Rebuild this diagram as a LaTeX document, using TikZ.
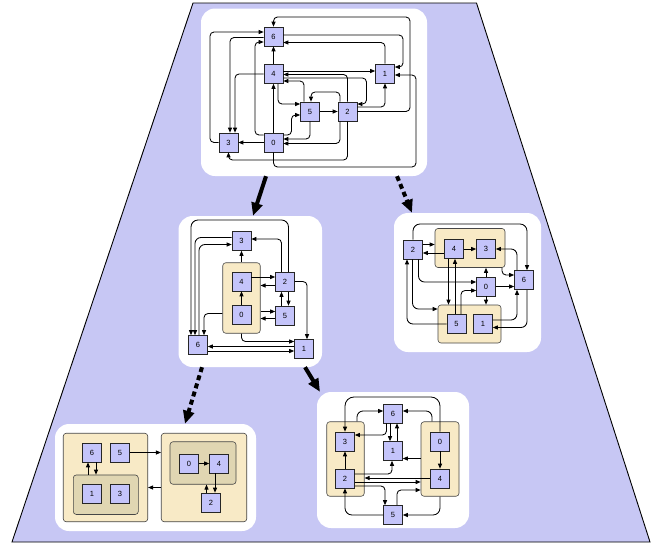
\documentclass[tikz,border=0pt]{standalone}
\usepackage{fontspec}
\setmainfont{Liberation Sans}
\usetikzlibrary{arrows.meta}
\definecolor{bgblue}{RGB}{199,199,244}
\definecolor{nodeblue}{RGB}{196,196,250}
\definecolor{clbeige}{RGB}{248,234,198}
\definecolor{clinner}{RGB}{224,214,178}
\definecolor{clline}{RGB}{70,70,70}
\begin{document}
\begin{tikzpicture}[x=1pt,y=-1pt,
  vx/.style={draw=black!85, fill=nodeblue, line width=0.6pt, minimum size=19pt, inner sep=0pt, font=\fontsize{7.5}{8}\selectfont},
  ed/.style={-{Triangle[length=5pt,width=4pt]}, line width=0.85pt, rounded corners=4pt},
  grp/.style={draw=clline, fill=clbeige, line width=0.6pt, rounded corners=3pt, inner sep=0pt},
  grpin/.style={grp, fill=clinner},
  panel/.style={fill=white, rounded corners=14pt, inner sep=0pt},
  bigarrow/.style={line width=4pt, -{Triangle[length=13pt,width=11pt]}},
  bigdotted/.style={bigarrow, dash pattern=on 5pt off 3.5pt}
]
\useasboundingbox (0,0) rectangle (668,546);
% background trapezoid
\draw[fill=bgblue, line width=0.9pt] (193,3) -- (476.5,3) -- (650,542) -- (12,542) -- cycle;

% white panels
\node[panel, minimum width=226pt, minimum height=167.5pt] (P1) at (314,92.25) {};
\node[panel, minimum width=143.5pt, minimum height=151pt] (P2) at (250.25,291.5) {};
\node[panel, minimum width=147pt, minimum height=139pt] (P3) at (467.5,282.5) {};
\node[panel, minimum width=201pt, minimum height=107pt] (P4) at (155.5,477.5) {};
\node[panel, minimum width=152pt, minimum height=136pt] (P5) at (393,460) {};

% arrows between panels
\draw[bigarrow] (P1.south -| 266,0) -- (P2.north -| 253,0);
\draw[bigdotted] (P1.south -| 397,0) -- (P3.north -| 412,0);
\draw[bigdotted] (P2.south -| 202,0) -- (P4.north -| 185,0);
\draw[bigarrow] (P2.south -| 305,0) -- (P5.north -| 320,0);

% ---------- panel 1 ----------
\node[vx] (a6) at (273.5,36.5) {6};
\node[vx] (a4) at (273.5,74) {4};
\node[vx] (a1) at (385,73.5) {1};
\node[vx] (a5) at (310,111.5) {5};
\node[vx] (a2) at (347.5,111.5) {2};
\node[vx] (a3) at (228.5,142.5) {3};
\node[vx] (a0) at (273.5,142.5) {0};

\draw[ed] (a2.east) -- (410,111.5) -- (410,17) -- (273.5,17) -- (a6.north);
\draw[ed] (a6.east |- 0,35) -- (403,35) -- (403,67) -- (a1.east |- 0,67);
\draw[ed] (a1.north) -- (385,42.5) -- (a6.east |- 0,42.5);
\draw[ed] (a4) -- (a6);
\draw[ed] (a4.east |- 0,71) -- (a1.west |- 0,71);
\draw[ed] (a4.east |- 0,78) -- (366.5,78) -- (366.5,104) -- (a2.east |- 0,104);
\draw[ed] (a2.north) -- (347.5,74.5) -- (a4.east |- 0,74.5);
\draw[ed] (a5.north -| 304,0) -- (304,81) -- (a4.east |- 0,81);
\draw[ed] (a2.north -| 340,0) -- (340,92) -- (311,92) -- (a5.north -| 311,0);
\draw[ed] (a4.south -| 278,0) -- (278,104) -- (a5.west |- 0,104);
\draw[ed] (a0.east |- 0,135) -- (291.5,135) -- (291.5,115) -- (a5.west |- 0,115);
\draw[ed] (a5.south) -- (310,139) -- (a0.east |- 0,139);
\draw[ed] (a2.south -| 340,0) -- (340,143.5) -- (a0.east |- 0,143.5);
\draw[ed] (a2.south) -- (347.5,160) -- (228.5,160) -- (a3.south);
\draw[ed] (a0.south) -- (273.5,167) -- (416,167) -- (416,75) -- (a1.east |- 0,75);
\draw[ed] (a0) -- (a3);
\draw[ed] (a3.west) -- (210,142.5) -- (210,32) -- (a6.west |- 0,32);
\draw[ed] (a6.west |- 0,37.5) -- (230,37.5) -- (a3.north -| 230,0);
\draw[ed] (a4.west) -- (235,74) -- (a3.north -| 235,0);
\draw[ed] (a0.west |- 0,135) -- (255,135) -- (255,42) -- (a6.west |- 0,42);
\draw[ed] (a0) -- (a4);
\draw[ed] (a5) -- (a2);
\draw[ed] (a2.east |- 0,107) -- (385,107) -- (a1.south);

% ---------- panel 2 ----------
\node[grp, minimum width=37.5pt, minimum height=70.5pt] (bc) at (241.5,298) {};
\node[vx] (b3) at (241.5,241) {3};
\node[vx] (b4) at (241.5,281.5) {4};
\node[vx] (b0) at (241.5,314.5) {0};
\node[vx] (b2) at (285,282) {2};
\node[vx] (b5) at (285,315.5) {5};
\node[vx] (b6) at (198,345) {6};
\node[vx] (b1) at (304,349) {1};

\draw[ed] (bc.north) -- (b3.south);
\draw[ed] (b0) -- (b4);
\draw[ed] (b4.east |- 0,277) -- (b2.west |- 0,277);
\draw[ed] (b2.west |- 0,285.5) -- (bc.east |- 0,285.5);
\draw[ed] (bc.east |- 0,311.5) -- (b5.west |- 0,311.5);
\draw[ed] (b5.west |- 0,318.5) -- (bc.east |- 0,318.5);
\draw[ed] (b2.south -| 288.5,0) -- (b5.north -| 288.5,0);
\draw[ed] (b5.north -| 281.5,0) -- (b2.south -| 281.5,0);
\draw[ed] (b2.north -| 281.5,0) -- (281.5,239) -- (b3.east |- 0,239);
\draw[ed, rounded corners=7pt] (b2.north -| 288.5,0) -- (288.5,220) -- (191,220) -- (b6.north -| 191,0);
\draw[ed, rounded corners=6pt] (b3.west |- 0,237.5) -- (195,237.5) -- (b6.north -| 195,0);
\draw[ed, rounded corners=6pt] (b6.north -| 199,0) -- (199,244.5) -- (b3.west |- 0,244.5);
\draw[ed] (bc.west |- 0,313.5) -- (204,313.5) -- (b6.north -| 204,0);
\draw[ed] (bc.south) -- (241.5,341.5) -- (b1.west |- 0,341.5);
\draw[ed] (b1.west |- 0,346.5) -- (b6.east |- 0,346.5);
\draw[ed] (b6.east |- 0,351) -- (b1.west |- 0,351);
\draw[ed] (b2.east |- 0,281.5) -- (307,281.5) -- (b1.north -| 307,0);

% ---------- panel 3 ----------
\node[grp, minimum width=70pt, minimum height=39pt] (cA) at (470,248) {};
\node[grp, minimum width=63pt, minimum height=38pt] (cB) at (469.5,324) {};
\node[vx] (c2) at (413,249.5) {2};
\node[vx] (c4) at (454,249) {4};
\node[vx] (c3) at (486,249) {3};
\node[vx] (c0) at (486,286.5) {0};
\node[vx] (c6) at (524,280) {6};
\node[vx] (c5) at (456.5,324) {5};
\node[vx] (c1) at (483,324) {1};

\draw[ed] (c2.east |- 0,244.5) -- (cA.west |- 0,244.5);
\draw[ed] (c4.west |- 0,253) -- (c2.east |- 0,253);
\draw[ed] (c4) -- (c3);
\draw[ed, rounded corners=6pt] (c6.north -| 517,0) -- (517,249) -- (c3.east);
\draw[ed, rounded corners=7pt] (c2.north) -- (413,224) -- (527,224) -- (c6.north -| 527,0);
\draw[ed] (cA.south -| 502,0) -- (502,275) -- (c6.west |- 0,275);
\draw[ed] (c0.north) -- (cA.south -| 486,0);
\draw[ed] (c0.south) -- (cB.north -| 486,0);
\draw[ed] (c0.east |- 0,286.5) -- (c6.west |- 0,286.5);
\draw[ed, rounded corners=6pt] (c2.south -| 418.5,0) -- (418.5,282) -- (c0.west |- 0,282);
\draw[ed] (c5.north -| 461,0) -- (461,290.5) -- (c0.west |- 0,290.5);
\draw[ed] (c4.south -| 448.5,0) -- (cB.north -| 448.5,0);
\draw[ed] (c5.north -| 455,0) -- (c4.south -| 455,0);
\draw[ed, rounded corners=6pt] (c2.south -| 412.5,0) -- (412.5,309) -- (cB.west |- 0,309);
\draw[ed, rounded corners=6pt] (c5.west) -- (407,324) -- (c2.south -| 407,0);
\draw[ed, rounded corners=6pt] (c1.east |- 0,320) -- (517,320) -- (c6.south -| 517,0);
\draw[ed, rounded corners=6pt] (c6.south -| 527,0) -- (527,327.5) -- (c1.east |- 0,327.5);

% ---------- panel 4 ----------
\node[grp, minimum width=84.5pt, minimum height=88.5pt] (dL) at (105.5,477.5) {};
\node[grpin, minimum width=65pt, minimum height=39.5pt] (dLi) at (105.8,494.7) {};
\node[grp, minimum width=85.5pt, minimum height=88.5pt] (dR) at (204,477.5) {};
\node[grpin, minimum width=66pt, minimum height=42.5pt] (dRi) at (203,463) {};
\node[vx] (d6) at (92,452.5) {6};
\node[vx] (d5) at (120,452.5) {5};
\node[vx] (d1) at (92,494) {1};
\node[vx] (d3) at (120,494) {3};
\node[vx] (d0) at (189,463.5) {0};
\node[vx] (d4) at (219,463.5) {4};
\node[vx] (d2) at (211,502.5) {2};

\draw[ed] (d5.east) -- (dR.west |- 0,452.5);
\draw[ed] (dR.west |- 0,487.5) -- (dL.east |- 0,487.5);
\draw[ed] (d0) -- (d4);
\draw[ed] (d4.south -| 215,0) -- (d2.north -| 215,0);
\draw[ed] (d2.north -| 206.5,0) -- (dRi.south -| 206.5,0);
\draw[ed] (d6.south -| 96,0) -- (dLi.north -| 96,0);
\draw[ed] (dLi.north -| 88,0) -- (d6.south -| 88,0);

% ---------- panel 5 ----------
\node[grp, minimum width=37.5pt, minimum height=74.5pt] (fL) at (345.5,459) {};
\node[grp, minimum width=38pt, minimum height=74.5pt] (fR) at (440,459) {};
\node[vx] (f6) at (393,413.5) {6};
\node[vx] (f1) at (393,451) {1};
\node[vx] (f3) at (345,441.5) {3};
\node[vx] (f2) at (345,478.5) {2};
\node[vx] (f0) at (440,441.5) {0};
\node[vx] (f4) at (440,478.5) {4};
\node[vx] (f5) at (393,515) {5};

\draw[ed] (f6.south -| 390,0) -- (f1.north -| 390,0);
\draw[ed] (f1.north -| 397,0) -- (f6.south -| 397,0);
\draw[ed] (f6.south -| 386.5,0) -- (386.5,435) -- (f3.east |- 0,435);
\draw[ed, rounded corners=6pt] (fL.north -| 357,0) -- (357,411) -- (f6.west |- 0,411);
\draw[ed, rounded corners=9pt] (f0.north) -- (440,397) -- (345,397) -- (f3.north);
\draw[ed, rounded corners=6pt] (fR.north -| 432,0) -- (432,411) -- (f6.east |- 0,411);
\draw[ed] (f0) -- (f4);
\draw[ed] (fR.west |- 0,458.5) -- (f1.east |- 0,458.5);
\draw[ed] (f2.east |- 0,474) -- (392,474) -- (f1.south -| 392,0);
\draw[ed] (f4.west |- 0,478) -- (fL.east |- 0,478);
\draw[ed] (f2.east |- 0,482) -- (fR.west |- 0,482);
\draw[ed] (f2.east |- 0,486) -- (385,486) -- (f5.north -| 385,0);
\draw[ed] (f5.north -| 397,0) -- (397,490) -- (fR.west |- 0,490);
\draw[ed, rounded corners=7pt] (f5.west) -- (345,515) -- (f2.south);
\draw[ed, rounded corners=7pt] (fR.south) -- (440,515) -- (f5.east);
\draw[ed] (f2) -- (f3);
\end{tikzpicture}
\end{document}
